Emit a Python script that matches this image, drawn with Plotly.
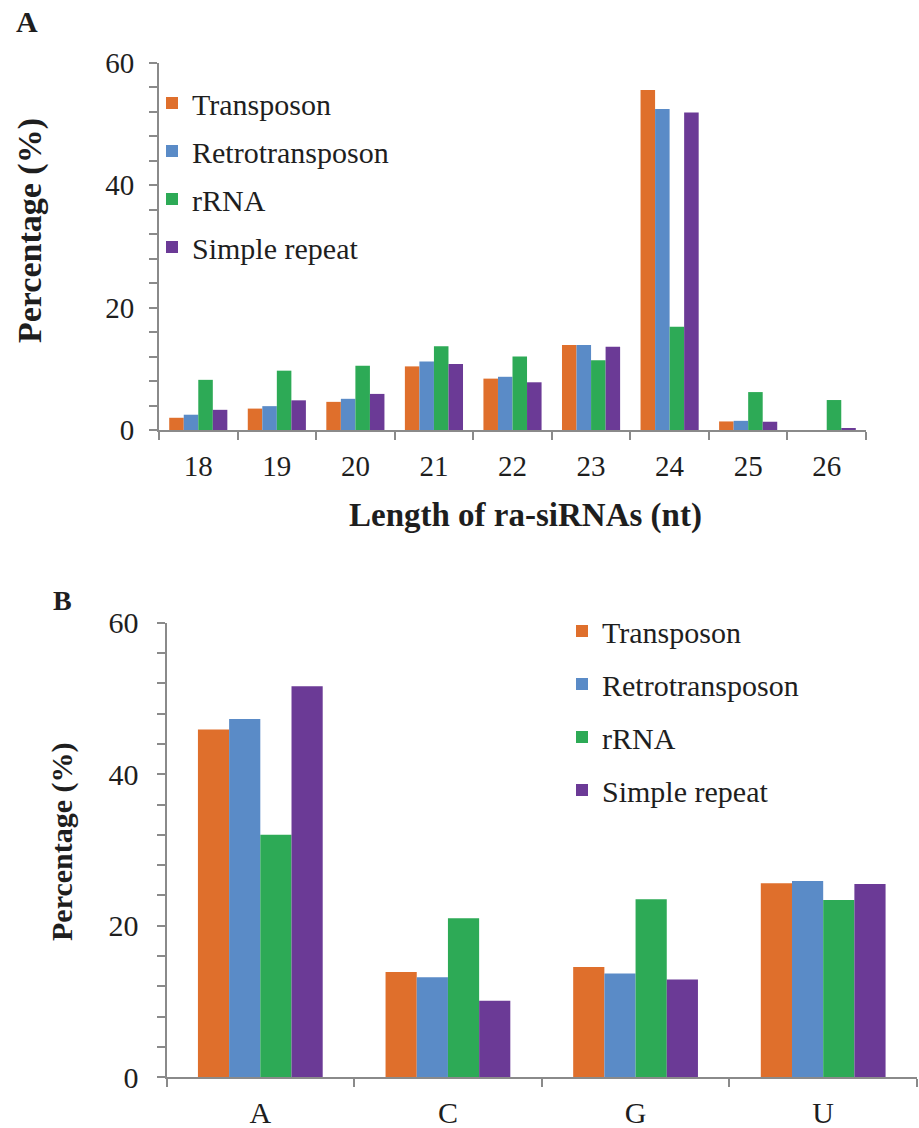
import plotly.graph_objects as go

# ---------------- data ----------------
lengths = ["18", "19", "20", "21", "22", "23", "24", "25", "26"]
series_names = ["Transposon", "Retrotransposon", "rRNA", "Simple repeat"]

transposon_len = [2.0, 3.5, 4.6, 10.4, 8.4, 13.9, 55.6, 1.4, 0.0]
retro_len = [2.5, 3.9, 5.1, 11.2, 8.7, 13.9, 52.5, 1.5, 0.0]
rrna_len = [8.2, 9.7, 10.5, 13.7, 12.0, 11.4, 16.9, 6.2, 4.9]
simple_len = [3.3, 4.85, 5.9, 10.8, 7.8, 13.6, 51.9, 1.35, 0.3]

bases = ["A", "C", "G", "U"]
transposon_base = [45.9, 13.9, 14.55, 25.6]
retro_base = [47.3, 13.2, 13.7, 25.9]
rrna_base = [32.0, 21.0, 23.5, 23.4]
simple_base = [51.6, 10.1, 12.9, 25.5]

# ---------------- style ----------------
colors = ["#DF6F2C", "#5A8BC7", "#2DAA56", "#6B3A96"]
FONT = "Liberation Serif, Times New Roman, Times, serif"
TXT = "#1e1e1e"
AX = "#8a8a8a"
W, H = 919, 1128

def px_x(p):
    return p / W

def px_y(p):
    return 1 - p / H

fig = go.Figure()

series_len = [transposon_len, retro_len, rrna_len, simple_len]
series_base = [transposon_base, retro_base, rrna_base, simple_base]

groupA = 0.74
wA = groupA / 4
for k, (name, vals) in enumerate(zip(series_names, series_len)):
    fig.add_trace(go.Bar(
        x=lengths, y=vals, name=name, marker_color=colors[k],
        marker_line_width=0, width=wA, offset=-groupA / 2 + k * wA,
        xaxis="x", yaxis="y", legend="legend", legendgroup="a%d" % k,
    ))

groupB = 0.665
wB = groupB / 4
for k, (name, vals) in enumerate(zip(series_names, series_base)):
    fig.add_trace(go.Bar(
        x=bases, y=vals, name=name, marker_color=colors[k],
        marker_line_width=0, width=wB, offset=-groupB / 2 + k * wB,
        xaxis="x2", yaxis="y2", legend="legend2", legendgroup="b%d" % k,
    ))

def yaxis_cfg(domain, anchor, size, standoff):
    return dict(
        domain=domain, anchor=anchor, range=[0, 60], dtick=20, tick0=0,
        showline=True, linecolor=AX, linewidth=2, automargin=False,
        ticks="outside", ticklen=8, tickwidth=2, tickcolor=AX,
        minor=dict(dtick=4, ticks="outside", ticklen=8, tickwidth=2, tickcolor=AX, showgrid=False),
        showgrid=False, zeroline=False, ticklabelstandoff=standoff,
        tickfont=dict(family=FONT, size=size, color=TXT),
    )

def xaxis_cfg(domain, anchor, size, standoff):
    return dict(
        domain=domain, anchor=anchor, type="category", automargin=False,
        showline=True, linecolor=AX, linewidth=2,
        ticks="outside", ticklen=8, tickwidth=2, tickcolor=AX, tickson="boundaries",
        showgrid=False, zeroline=False, ticklabelstandoff=standoff,
        tickfont=dict(family=FONT, size=size, color=TXT),
    )

def ann(text, x, y, size, angle=0):
    return dict(text=text, x=px_x(x), y=px_y(y), xref="paper", yref="paper",
                xanchor="center", yanchor="middle", textangle=angle,
                showarrow=False, font=dict(family=FONT, size=size, color=TXT))

fig.update_layout(
    template="none",
    width=W, height=H, margin=dict(l=0, r=0, t=0, b=0, pad=0, autoexpand=False),
    paper_bgcolor="white", plot_bgcolor="white",
    font=dict(family=FONT, color=TXT),
    barmode="overlay",
    xaxis=xaxis_cfg([px_x(159), px_x(866)], "y", 29, 9),
    yaxis=yaxis_cfg([px_y(430), px_y(63)], "x", 29, 9),
    xaxis2=xaxis_cfg([px_x(166.5), px_x(917)], "y2", 30, 8),
    yaxis2=yaxis_cfg([px_y(1077.3), px_y(622.7)], "x2", 30, 12),
    legend=dict(
        x=px_x(152), y=px_y(77), xanchor="left", yanchor="top",
        font=dict(family=FONT, size=30, color=TXT),
        traceorder="grouped", tracegroupgap=6, bgcolor="rgba(0,0,0,0)",
    ),
    legend2=dict(
        x=px_x(562), y=px_y(605), xanchor="left", yanchor="top",
        font=dict(family=FONT, size=30, color=TXT),
        traceorder="grouped", tracegroupgap=11, bgcolor="rgba(0,0,0,0)",
    ),
    annotations=[
        ann("<b>A</b>", 27, 22, 30),
        ann("<b>B</b>", 62, 600, 28),
        ann("<b>Percentage (%)</b>", 30, 231, 34, -90),
        ann("<b>Length of ra-siRNAs (nt)</b>", 525, 515, 33),
        ann("<b>Percentage (%)</b>", 62, 842, 30, -90),
    ],
)

fig.write_html("out.html")
